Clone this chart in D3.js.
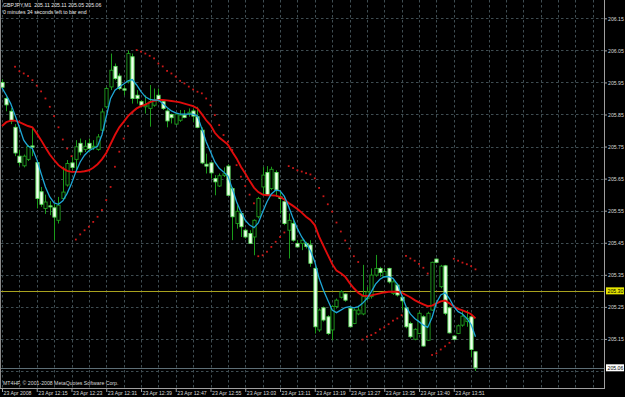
<!DOCTYPE html>
<html>
<head>
<meta charset="utf-8">
<script src="https://d3js.org/d3.v7.min.js"></script>
<style>
  html, body { margin: 0; padding: 0; background: #000; }
  svg { display: block; }
  text { font-family: "Liberation Sans", Arial, sans-serif; }
</style>
</head>
<body>
<svg id="chart" width="625" height="397"></svg>
<script>
// GBPJPY M1 candles (bar 0 = 12:07)
var opens = [205.95,205.90,205.86,205.81,205.72,205.69,205.71,205.752,205.70,205.609,
  205.557,205.565,205.559,205.52,205.588,205.63,205.699,205.71,205.76,205.741,
  205.76,205.749,205.741,205.801,205.874,205.936,206.0,205.97,205.93,205.952,
  206.03,205.91,205.89,205.874,205.869,205.879,205.91,205.89,205.861,205.85,
  205.82,205.832,205.848,205.853,205.861,205.843,205.801,205.695,205.699,205.65,
  205.627,205.66,205.689,205.619,205.51,205.541,205.489,205.479,205.468,205.531,
  205.624,205.669,205.619,205.669,205.593,205.578,205.489,205.51,205.448,205.448,
  205.448,205.443,205.37,205.178,205.247,205.219,205.178,205.251,205.28,205.29,
  205.245,205.198,205.228,205.228,205.276,205.282,205.349,205.37,205.344,205.37,
  205.292,205.318,205.28,205.247,205.198,205.149,205.167,205.219,205.146,205.24,
  205.399,205.313,205.378,205.247,205.159,205.167,205.193,205.204,205.219,205.11];
var highs = [205.96,205.905,205.87,205.82,205.74,205.725,205.755,205.81,205.708,205.624,
  205.60,205.58,205.572,205.593,205.687,205.708,205.718,205.77,205.775,205.77,
  205.775,205.77,205.789,205.869,205.936,206.04,206.009,205.978,205.942,206.05,
  206.04,205.926,205.895,205.91,205.942,205.931,205.931,205.895,205.869,205.853,
  205.855,205.864,205.864,205.869,205.869,205.874,205.81,205.728,205.702,205.661,
  205.666,205.685,205.695,205.624,205.567,205.546,205.494,205.489,205.523,205.593,
  205.687,205.689,205.687,205.676,205.614,205.593,205.541,205.52,205.458,205.46,
  205.453,205.458,205.375,205.245,205.251,205.224,205.256,205.276,205.302,205.292,
  205.251,205.245,205.251,205.381,205.313,205.37,205.412,205.375,205.37,205.372,
  205.334,205.323,205.284,205.251,205.204,205.183,205.235,205.224,205.235,205.391,
  205.401,205.381,205.381,205.251,205.162,205.195,205.24,205.24,205.221,205.11];
var lows = [205.93,205.86,205.82,205.72,205.69,205.685,205.705,205.72,205.557,205.562,
  205.54,205.536,205.458,205.51,205.583,205.625,205.676,205.676,205.723,205.733,
  205.733,205.739,205.737,205.796,205.869,205.926,205.957,205.926,205.91,205.947,
  205.884,205.884,205.874,205.853,205.812,205.874,205.89,205.864,205.81,205.822,
  205.817,205.827,205.838,205.843,205.827,205.807,205.695,205.666,205.65,205.598,
  205.624,205.655,205.596,205.458,205.494,205.468,205.463,205.446,205.411,205.526,
  205.60,205.596,205.614,205.593,205.541,205.505,205.401,205.453,205.435,205.427,
  205.432,205.375,205.167,205.172,205.204,205.162,205.146,205.245,205.276,205.266,
  205.186,205.196,205.224,205.224,205.271,205.276,205.344,205.344,205.342,205.323,
  205.287,205.282,205.24,205.183,205.152,205.146,205.165,205.126,205.144,205.238,
  205.386,205.308,205.224,205.167,205.146,205.165,205.188,205.188,205.094,205.05];
var closes = [205.935,205.88,205.83,205.73,205.70,205.72,205.75,205.748,205.588,205.57,
  205.577,205.562,205.53,205.567,205.608,205.697,205.685,205.749,205.733,205.751,
  205.744,205.751,205.78,205.858,205.931,205.988,205.962,205.931,205.926,206.04,
  205.90,205.90,205.879,205.879,205.89,205.895,205.897,205.869,205.83,205.84,
  205.851,205.848,205.841,205.857,205.845,205.81,205.699,205.689,205.668,205.64,
  205.659,205.665,205.598,205.531,205.548,205.50,205.468,205.448,205.52,205.588,
  205.661,205.598,205.679,205.614,205.588,205.51,205.52,205.458,205.437,205.458,
  205.438,205.386,205.188,205.24,205.209,205.167,205.251,205.271,205.297,205.271,
  205.188,205.24,205.24,205.282,205.297,205.349,205.37,205.357,205.36,205.328,
  205.328,205.287,205.269,205.188,205.157,205.18,205.23,205.128,205.23,205.389,
  205.389,205.377,205.23,205.169,205.149,205.191,205.221,205.214,205.117,205.06];

// fast moving average (blue)
var maFast = [205.933,205.91,205.884,205.848,205.81,205.77,205.751,205.744,205.71,205.666,
  205.624,205.593,205.574,205.57,205.581,205.604,205.635,205.671,205.702,205.723,
  205.737,205.744,205.751,205.786,205.843,205.90,205.926,205.936,205.945,205.955,
  205.959,205.942,205.921,205.905,205.897,205.895,205.895,205.884,205.872,205.861,
  205.855,205.851,205.851,205.851,205.851,205.845,205.806,205.765,205.734,205.702,
  205.682,205.671,205.658,205.619,205.578,205.546,205.52,205.505,205.497,205.512,
  205.546,205.578,205.602,205.614,205.612,205.595,205.562,205.526,205.494,205.468,
  205.448,205.425,205.391,205.339,205.302,205.271,205.24,205.232,205.24,205.248,
  205.251,205.247,205.251,205.261,205.276,205.297,205.321,205.336,205.344,205.344,
  205.339,205.321,205.287,205.251,205.228,205.214,205.204,205.193,205.186,205.217,
  205.263,205.287,205.294,205.276,205.251,205.235,205.228,205.214,205.195,205.157];
// slow moving average (red)
var maSlow = [205.814,205.826,205.831,205.831,205.826,205.82,205.814,205.81,205.791,205.77,
  205.747,205.725,205.708,205.692,205.682,205.674,205.671,205.671,205.671,205.673,
  205.676,205.684,205.695,205.71,205.73,205.758,205.786,205.81,205.827,205.845,
  205.858,205.869,205.876,205.881,205.888,205.893,205.895,205.895,205.894,205.892,
  205.89,205.888,205.884,205.88,205.876,205.869,205.851,205.832,205.817,205.793,
  205.778,205.767,205.756,205.734,205.713,205.687,205.666,205.643,205.622,205.608,
  205.60,205.598,205.598,205.597,205.593,205.585,205.574,205.565,205.555,205.544,
  205.531,205.521,205.505,205.469,205.44,205.412,205.384,205.363,205.355,205.344,
  205.325,205.308,205.294,205.285,205.284,205.286,205.289,205.292,205.295,205.297,
  205.297,205.297,205.294,205.287,205.28,205.271,205.264,205.258,205.252,205.254,
  205.261,205.267,205.27,205.261,205.251,205.244,205.239,205.234,205.227,205.214];
// parabolic SAR dots
var sar = [null,null,null,205.999,205.985,205.978,205.97,205.957,205.94,205.922,
  205.9,205.874,205.845,205.81,205.772,205.744,205.72,205.46,205.476,205.489,
  205.50,205.515,205.531,205.552,205.583,205.624,205.687,205.734,205.775,205.814,
  205.855,206.051,206.046,206.04,206.033,206.025,206.009,206.0,205.986,205.978,
  205.968,205.955,205.947,205.937,205.928,205.921,205.916,205.9,205.879,205.848,
  205.817,205.786,205.765,205.739,205.692,205.656,205.627,205.60,205.573,205.408,
  205.411,205.422,205.437,205.453,205.468,205.482,205.689,205.683,205.676,205.672,
  205.667,205.663,205.651,205.621,205.595,205.57,205.547,205.513,205.485,205.457,
  205.432,205.408,205.39,205.148,205.157,205.162,205.169,205.18,205.186,205.196,
  205.207,205.214,205.224,205.409,205.401,205.394,205.384,205.372,205.354,205.1,
  205.105,205.117,205.127,205.138,205.4,205.394,205.388,205.383,205.377,205.367];

var gridPrices = [206.15,206.05,205.95,205.85,205.75,205.65,205.55,205.45,205.35,205.25,205.15,205.05];
var priceLabels = [206.15,206.05,205.95,205.85,205.75,205.65,205.55,205.45,205.35,205.25,205.15];
var labelBars = [0,8,16,24,32,40,48,56,64,72,80,88,96,104];
var timeLabels = ['23 Apr 2008','23 Apr 12:15','23 Apr 12:23','23 Apr 12:31','23 Apr 12:39',
  '23 Apr 12:47','23 Apr 12:55','23 Apr 13:03','23 Apr 13:11','23 Apr 13:19','23 Apr 13:27',
  '23 Apr 13:35','23 Apr 13:40','23 Apr 13:51'];
var hLine = 205.30;   // yellow horizontal line
var bidPrice = 205.06;

var W = 625, H = 397, right = 604, bottom = 388;
var fs = '5.2px';
var svg = d3.select('#chart');
svg.append('rect').attr('width', W).attr('height', H).attr('fill', '#000');

var x = d3.scaleLinear().domain([0, 109]).range([2, 2 + 4.344 * 109]);
var y = d3.scaleLinear().domain([205.05, 206.15]).range([371.0, 18.3]);

// grid
var grid = svg.append('g').attr('stroke', '#3f4d52').attr('stroke-dasharray', '2.5,2.5').attr('stroke-width', 1);
gridPrices.forEach(function(p) {
    var yy = Math.round(y(p)) + 0.5;
    grid.append('line').attr('x1', 1).attr('x2', right).attr('y1', yy).attr('y2', yy);
});
d3.range(0, 137, 4).forEach(function(b) {
    var xx = Math.round(x(b)) + 0.5;
    if (xx < right) grid.append('line').attr('x1', xx).attr('x2', xx).attr('y1', 0).attr('y2', bottom);
});

// yellow line and bid line
svg.append('line').attr('x1', 1).attr('x2', right).attr('y1', Math.round(y(hLine)) + 0.5).attr('y2', Math.round(y(hLine)) + 0.5)
    .attr('stroke', '#a8a21e');
svg.append('line').attr('x1', 1).attr('x2', right).attr('y1', Math.round(y(bidPrice)) + 0.5).attr('y2', Math.round(y(bidPrice)) + 0.5)
    .attr('stroke', '#5d6e76');

// candles
var candles = svg.append('g');
opens.forEach(function(o, i) {
    var c = closes[i];
    var cx = Math.round(x(i)) + 0.5;
    candles.append('line').attr('x1', cx).attr('x2', cx)
        .attr('y1', y(highs[i])).attr('y2', y(lows[i]))
        .attr('stroke', '#1a9c1a').attr('stroke-width', 1);
    var top = y(Math.max(o, c)), h = Math.max(1, Math.abs(y(o) - y(c)));
    var bull = c > o;
    candles.append('rect').attr('x', cx - 1.6).attr('width', 3.2)
        .attr('y', top).attr('height', h)
        .attr('fill', bull ? '#000' : '#f2fff0')
        .attr('stroke', bull ? '#1f9e1f' : '#5ee25e').attr('stroke-width', 0.9);
});

// moving averages
var line = d3.line().x(function(d, i) { return x(i); }).y(function(d) { return y(d); });
svg.append('path').datum(maSlow).attr('d', line).attr('fill', 'none')
    .attr('stroke', '#e00c0c').attr('stroke-width', 1.9);
svg.append('path').datum(maFast).attr('d', line).attr('fill', 'none')
    .attr('stroke', '#1ea6d6').attr('stroke-width', 1.3);

// SAR
svg.append('g').selectAll('rect').data(sar.map(function(v, i) { return [i, v]; }).filter(function(d) { return d[1] != null; }))
    .enter().append('rect')
    .attr('x', function(d) { return x(d[0]) - 0.9; }).attr('y', function(d) { return y(d[1]) - 0.9; })
    .attr('width', 1.8).attr('height', 1.8).attr('fill', '#cc1818');

// border
svg.append('line').attr('x1', 0.5).attr('x2', 0.5).attr('y1', 0).attr('y2', bottom).attr('stroke', '#8c8c8c');
svg.append('line').attr('x1', right + 0.5).attr('x2', right + 0.5).attr('y1', 0).attr('y2', bottom).attr('stroke', '#a0a0a0');
svg.append('line').attr('x1', 0).attr('x2', right + 1).attr('y1', bottom + 0.5).attr('y2', bottom + 0.5).attr('stroke', '#a0a0a0');

// price axis
var yAxis = svg.append('g').attr('transform', 'translate(' + (right + 1) + ',0)')
    .call(d3.axisRight(y).tickValues(priceLabels).tickSize(2).tickPadding(1).tickFormat(d3.format('.2f')));
yAxis.select('.domain').remove();
yAxis.selectAll('line').attr('stroke', '#a0a0a0');
yAxis.selectAll('text').attr('fill', '#d8d8d8').style('font-size', fs).attr('dy', '0.35em');

function priceBox(p, bg) {
    var g = svg.append('g').attr('transform', 'translate(' + (right + 1) + ',' + y(p) + ')');
    g.append('rect').attr('x', 1).attr('y', -3.5).attr('width', 18).attr('height', 7).attr('fill', bg);
    g.append('text').attr('x', 2.5).attr('y', 0).attr('dy', '0.35em').attr('fill', '#000')
        .style('font-size', fs).text(p.toFixed(2));
}
priceBox(hLine, '#e6e600');
priceBox(bidPrice, '#ffffff');

// time axis
var xAxis = svg.append('g').attr('transform', 'translate(0,' + (bottom + 1) + ')')
    .call(d3.axisBottom(x).tickValues(labelBars).tickSize(3).tickPadding(2)
        .tickFormat(function(d, i) { return timeLabels[i]; }));
xAxis.select('.domain').remove();
xAxis.selectAll('line').attr('stroke', '#a0a0a0');
xAxis.selectAll('text').attr('fill', '#d8d8d8').style('font-size', fs)
    .attr('text-anchor', 'start').attr('x', 1).attr('y', 2);

// header and copyright
svg.append('text').attr('x', 3).attr('y', 7).attr('fill', '#e8e8e8').style('font-size', fs)
    .attr('xml:space', 'preserve').text('GBPJPY,M1  205.11 205.11 205.05 205.06');
svg.append('text').attr('x', 3).attr('y', 13.5).attr('fill', '#e8e8e8').style('font-size', fs)
    .text('0 minutes 34 seconds left to bar end');
svg.append('text').attr('x', 3).attr('y', 384.5).attr('fill', '#d8d8d8').style('font-size', fs)
    .text('MT4HF, \u00a9 2001-2008 MetaQuotes Software Corp.');
</script>
</body>
</html>
